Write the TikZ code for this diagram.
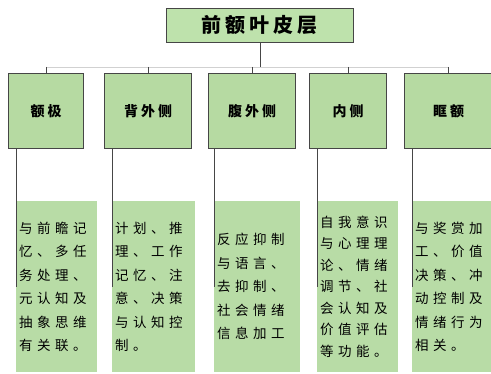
\documentclass[tikz,border=0pt]{standalone}
\usetikzlibrary{calc}
\usepackage{fontspec}
\newfontfamily\cjkt[LetterSpace=20]{Noto Sans CJK SC}
\newfontfamily\cjkp[LetterSpace=22]{Noto Sans CJK SC}
\newfontfamily\cjkd[LetterSpace=33]{Noto Sans CJK SC}
\definecolor{titlegreen}{RGB}{190,226,172}
\definecolor{boxgreen}{RGB}{182,218,162}
\definecolor{detgreen}{RGB}{184,220,166}
\definecolor{edge}{RGB}{70,70,70}
\tikzset{
  titlebox/.style={draw=edge, line width=0.8pt, fill=titlegreen, inner sep=0pt,
    anchor=north west, minimum width=187pt, minimum height=34pt,
    font=\cjkt\bfseries\fontsize{20}{22}\selectfont},
  parentbox/.style={draw=edge, line width=1.2pt, fill=boxgreen, inner sep=0pt,
    anchor=north west, minimum height=75pt,
    font=\cjkp\bfseries\fontsize{14}{16}\selectfont},
  detailbox/.style={fill=detgreen, inner xsep=3pt, inner ysep=0pt, anchor=north west,
    minimum height=171pt, align=left, text=black,
    font=\cjkd\fontsize{13.5}{23.5}\selectfont},
  conn/.style={draw=edge, line width=0.6pt},
  bus/.style={draw=black!18, line width=0.6pt}
}
\begin{document}
\begin{tikzpicture}[x=1pt,y=-1pt]
\useasboundingbox (0,0) rectangle (491,374);
\fill[white] (0,0) rectangle (491,374);

\node[titlebox] (t) at (166,8) {前额叶皮层};

\node[parentbox, minimum width=75pt] (p1) at (8,73) {额极};
\node[parentbox, minimum width=87pt] (p2) at (104,73) {背外侧};
\node[parentbox, minimum width=87pt] (p3) at (208,73) {腹外侧};
\node[parentbox, minimum width=77pt] (p4) at (309,73) {内侧};
\node[parentbox, minimum width=88pt] (p5) at (404,73) {眶额};

\coordinate (busl) at ($(p1.north)+(0,-6)$);
\coordinate (busr) at ($(p5.north)+(0,-6)$);
\coordinate (tb) at (t.south |- busl);

\node[detailbox, text width=75pt, minimum width=81pt] (d1) at (16,201)
  {与前瞻记\\忆、多任\\务处理、\\元认知及\\抽象思维\\有关联。};
\node[detailbox, text width=77pt, minimum width=83pt] (d2) at (112,201)
  {计划、推\\理、工作\\记忆、注\\意、决策\\与认知控\\制。};
\node[detailbox, text width=80pt, minimum width=86pt] (d3) at (214,201)
  {反应抑制\\与语言、\\去抑制、\\社会情绪\\信息加工};
\node[detailbox, text width=75pt, minimum width=81pt, font=\cjkd\fontsize{13.5}{21.5}\selectfont] (d4) at (317,201)
  {自我意识\\与心理理\\论、情绪\\调节、社\\会认知及\\价值评估\\等功能。};
\node[detailbox, text width=73pt, minimum width=79pt] (d5) at (412,201)
  {与奖赏加\\工、价值\\决策、冲\\动控制及\\情绪行为\\相关。};

\draw[bus] (busl) -- (busr);
\draw[conn] (t.south) -- (tb);
\foreach \i in {1,...,5}{
  \draw[conn] (p\i.north |- busl) -- (p\i.north);
}
\foreach \i in {1,...,5}{
  \draw[conn] (p\i.south -| d\i.west) -- (d\i.west);
}
\end{tikzpicture}
\end{document}
